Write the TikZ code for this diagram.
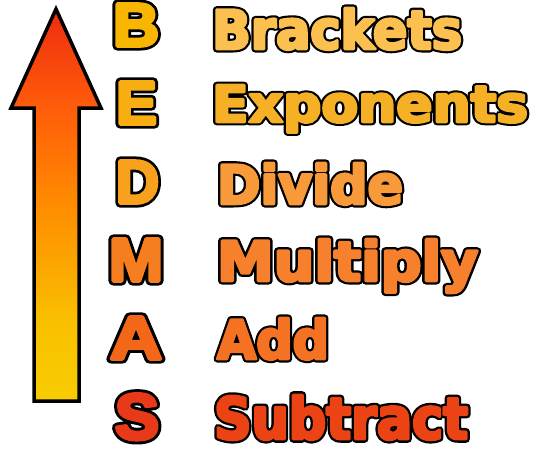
\documentclass[tikz,border=0pt]{standalone}
\usepackage{fontspec}
\usepackage{graphicx}
\setmainfont{Liberation Sans}
\newfontfamily\wordblack{DejaVu Sans Condensed Bold}[FakeBold=13]
\newfontfamily\wordfill{DejaVu Sans Condensed Bold}[FakeBold=5]
\newfontfamily\letterblack{Liberation Sans Bold}[FakeBold=15]
\newfontfamily\letterfill{Liberation Sans Bold}[FakeBold=6]
\definecolor{cB}{HTML}{F9B600}\definecolor{cBr}{HTML}{FCC050}
\definecolor{cE}{HTML}{F8AE10}\definecolor{cEx}{HTML}{F6B025}
\definecolor{cD}{HTML}{F9A01C}\definecolor{cDi}{HTML}{F8993A}
\definecolor{cM}{HTML}{F67E1E}\definecolor{cMu}{HTML}{F6802C}
\definecolor{cA}{HTML}{F26818}\definecolor{cAd}{HTML}{F47222}
\definecolor{cS}{HTML}{E83A18}\definecolor{cSu}{HTML}{EC4314}
\definecolor{shA}{HTML}{F8CC00}
\definecolor{shB}{HTML}{F9C000}
\definecolor{shC}{HTML}{FF8C00}
\definecolor{shD}{HTML}{FF5E0A}
\definecolor{shE}{HTML}{EE2C0E}
\newcommand\twolayer[4]{%
  \special{pdf:literal direct 1 j}%
  \makebox[0pt][l]{\color{black}#1#4}{\color{#3}#2#4}}
\pgfdeclareverticalshading{arrowshade}{100bp}{%
  color(0bp)=(shA);
  color(25bp)=(shA);
  color(35bp)=(shB);
  color(50bp)=(shC);
  color(62bp)=(shD);
  color(75bp)=(shE);
  color(100bp)=(shE)}
\tikzset{
  txt/.style={inner sep=0pt, outer sep=0pt, anchor=base west},
  arrowbody/.style={draw=black, line width=3.5pt, miter limit=10, shading=arrowshade},
}
\newcommand\wordbox[4]{\resizebox{#1pt}{#2pt}{\twolayer{\wordblack}{\wordfill}{#3}{#4}}}
\newcommand\letterbox[4]{\resizebox{#1pt}{#2pt}{\twolayer{\letterblack}{\letterfill}{#3}{#4}}}
\begin{document}
\begin{tikzpicture}[x=1pt,y=-1pt]
\useasboundingbox (0,0) rectangle (544,451);
% arrow
\shade[arrowbody] (56,9) -- (101,108) -- (79,108) -- (79,401) -- (34,401) -- (34,108) -- (11,108) -- cycle;
% letters
\node[txt] (lB) at (113,46)  {\letterbox{46}{42}{cB}{B}};
\node[txt] (lE) at (116,124) {\letterbox{41}{42}{cE}{E}};
\node[txt] (lD) at (116,203) {\letterbox{43}{42}{cD}{D}};
\node[txt] (lM) at (109,281) {\letterbox{54}{42}{cM}{M}};
\node[txt] (lA) at (110,359) {\letterbox{52}{42}{cA}{A}};
\node[txt] (lS) at (115,439) {\letterbox{44}{45}{cS}{S}};
% words
\node[txt] (wB) at (212,49)  {\wordbox{250}{41}{cBr}{Brackets}};
\node[txt] (wE) at (212,122) {\wordbox{316}{37}{cEx}{Exponents}};
\node[txt] (wD) at (217,204) {\wordbox{186}{41}{cDi}{Divide}};
\node[txt] (wM) at (217,281) {\wordbox{261}{42}{cMu}{Multiply}};
\node[txt] (wA) at (217,359) {\wordbox{112}{41}{cAd}{Add}};
\node[txt] (wS) at (214,439) {\wordbox{254}{44}{cSu}{Subtract}};
\end{tikzpicture}
\end{document}
